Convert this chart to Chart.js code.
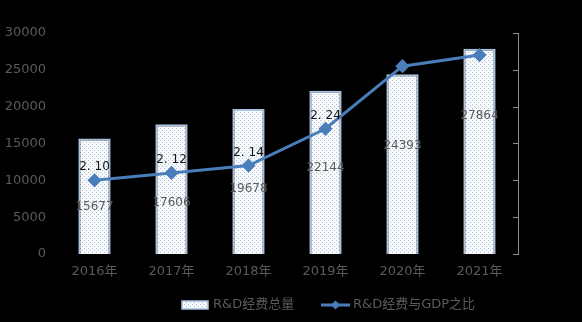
<!DOCTYPE html>
<html><head><meta charset="utf-8">
<script src="https://cdn.jsdelivr.net/npm/chart.js@4/dist/chart.umd.min.js"></script>
<style>html,body{margin:0;padding:0;background:#000;}#wrap{width:582px;height:322px;}</style>
</head><body><div id="wrap"><canvas id="c" width="582" height="322"></canvas></div>
<script>
const categories = ['2016年','2017年','2018年','2019年','2020年','2021年'];
const rdTotal = [15677, 17606, 19678, 22144, 24393, 27864];
const rdRatio = [2.10, 2.12, 2.14, 2.24, 2.41, 2.44];
const ratioLabels = ['2. 10', '2. 12', '2. 14', '2. 24', '', ''];
const seriesNames = ['R&D经费总量', 'R&D经费与GDP之比'];
const leftAxis = {min: 0, max: 30000, step: 5000};
const rightAxis = {min: 1.9, max: 2.5, step: 0.1};

const FONT = '"DejaVu Sans", "Noto Sans CJK SC", sans-serif';
const GRAY = '#5a5a5a';
const LINE = '#4a7ebb';
const BARBORDER = '#a9c0de';

function makePattern() {
  const p = document.createElement('canvas');
  p.width = 4; p.height = 4;
  const g = p.getContext('2d');
  g.fillStyle = '#f7fafd'; g.fillRect(0, 0, 4, 4);
  g.fillStyle = '#b3c0d2';
  g.fillRect(0, 0, 1, 1); g.fillRect(2, 2, 1, 1);
  return document.getElementById('c').getContext('2d').createPattern(p, 'repeat');
}
const pattern = makePattern();

const decor = {
  id: 'decor',
  afterDatasetsDraw(chart, args, opts) {
    const ctx = chart.ctx;
    ctx.save();
    const barMeta = chart.getDatasetMeta(0);
    ctx.font = '12px ' + FONT;
    ctx.fillStyle = GRAY;
    ctx.textAlign = 'center';
    ctx.textBaseline = 'middle';
    barMeta.data.forEach((el, i) => {
      const mid = (el.y + el.base) / 2;
      ctx.fillText(String(rdTotal[i]), el.x, mid + opts.barLabelOffsets[i]);
    });
    const lineMeta = chart.getDatasetMeta(1);
    ctx.fillStyle = '#141414';
    lineMeta.data.forEach((el, i) => {
      if (ratioLabels[i]) ctx.fillText(ratioLabels[i], el.x, el.y - 13);
    });
    ctx.restore();
  },
  afterDraw(chart) {
    const ctx = chart.ctx;
    ctx.save();
    const y1 = chart.scales.y1;
    ctx.strokeStyle = '#8c8c8c';
    ctx.lineWidth = 1;
    y1.ticks.forEach(t => {
      const y = Math.round(y1.getPixelForValue(t.value)) + 0.5;
      ctx.beginPath();
      ctx.moveTo(y1.left - 5, y);
      ctx.lineTo(y1.left + 0.5, y);
      ctx.stroke();
    });
    const ly = 305;
    ctx.fillStyle = pattern;
    ctx.fillRect(182, ly - 4, 26, 8);
    ctx.strokeStyle = BARBORDER; ctx.lineWidth = 1.5;
    ctx.strokeRect(182, ly - 4, 26, 8);
    ctx.font = '13px ' + FONT;
    ctx.fillStyle = GRAY;
    ctx.textAlign = 'left';
    ctx.textBaseline = 'middle';
    ctx.fillText(seriesNames[0], 213, ly);
    ctx.strokeStyle = LINE; ctx.lineWidth = 3;
    ctx.beginPath(); ctx.moveTo(321, ly); ctx.lineTo(350, ly); ctx.stroke();
    ctx.fillStyle = LINE;
    ctx.beginPath();
    ctx.moveTo(335.5, ly - 4.5); ctx.lineTo(340, ly); ctx.lineTo(335.5, ly + 4.5); ctx.lineTo(331, ly);
    ctx.closePath(); ctx.fill();
    ctx.fillStyle = GRAY;
    ctx.fillText(seriesNames[1], 353, ly);
    ctx.restore();
  }
};

new Chart(document.getElementById('c'), {
  data: {
    labels: categories,
    datasets: [
      {
        type: 'bar', label: seriesNames[0], data: rdTotal, yAxisID: 'y',
        backgroundColor: pattern, borderColor: BARBORDER, borderWidth: 2,
        barPercentage: 0.42, categoryPercentage: 1.0, order: 2
      },
      {
        type: 'line', label: seriesNames[1], data: rdRatio, yAxisID: 'y1',
        borderColor: LINE, backgroundColor: LINE, borderWidth: 3,
        pointStyle: 'rectRot', pointRadius: 5, pointBackgroundColor: LINE,
        pointBorderColor: LINE, tension: 0, order: 1
      }
    ]
  },
  options: {
    responsive: false, animation: false, devicePixelRatio: 1,
    layout: {padding: {top: 33, left: 0, right: 0, bottom: 0}},
    plugins: {
      legend: {display: false}, tooltip: {enabled: false},
      decor: {barLabelOffsets: [11, 14, 7, -5, -18, -35]}
    },
    scales: {
      x: {
        grid: {display: false, drawTicks: false}, border: {display: false},
        ticks: {color: GRAY, font: {size: 13, family: FONT}, padding: 10},
        afterFit(s) { s.height = 68; }
      },
      y: {
        position: 'left', min: leftAxis.min, max: leftAxis.max,
        grid: {display: false, drawTicks: false}, border: {display: false},
        ticks: {stepSize: leftAxis.step, color: GRAY, font: {size: 13, family: FONT}, padding: 10,
                callback: v => String(v)},
        afterFit(s) { s.width = 56; }
      },
      y1: {
        position: 'right', min: rightAxis.min, max: rightAxis.max,
        grid: {display: false, drawTicks: false},
        border: {display: true, color: '#8c8c8c', width: 1},
        ticks: {stepSize: rightAxis.step, display: false},
        afterFit(s) { s.width = 64; }
      }
    }
  },
  plugins: [decor]
});
</script>
</body></html>
